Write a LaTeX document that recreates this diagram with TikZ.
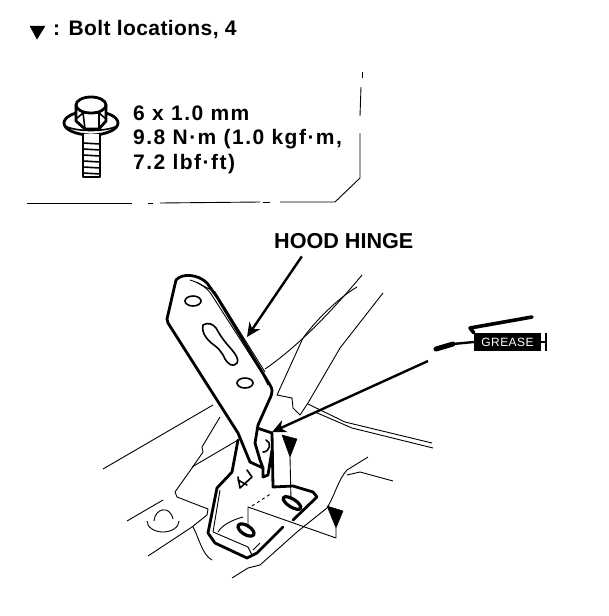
\documentclass[tikz,border=0pt]{standalone}
\usepackage{fontspec}
\setmainfont{Liberation Sans}
\usetikzlibrary{arrows.meta}
\begin{document}
\begin{tikzpicture}[x=1pt, y=-1pt]
        % ================= 样式定义 =================
        \tikzset{
            % 粗轮廓
            heavy/.style={line width=2.8pt, black, line join=round, line cap=round},
            % 中等线
            mid/.style={line width=1.6pt, black, line join=round, line cap=round},
            % 细线
            fine/.style={line width=0.9pt, black, line join=round},
            % 引线箭头
            pointer/.style={line width=2.4pt, black, -{Stealth[length=14pt, width=13pt]}},
            % 黑三角标记
            marker/.style={fill=black, draw=black, line width=0.5pt},
            % 文字
            label/.style={inner sep=0pt, font=\fontsize{21}{24.5}\selectfont\bfseries, align=left}
        }
        \useasboundingbox (0,0) rectangle (608,616);

        % ================= 第一部分:说明文字 =================
        \fill[marker] (30,26) -- (45,26) -- (37,39) -- cycle;
        \node[label, anchor=base west] (boltnote) at (53,35) {\addfontfeatures{LetterSpace=2}: Bolt locations, 4};

        % 框线 (断续)
        \draw[fine] (362,72) -- (362,78);
        \draw[fine] (361,87) -- (360,116);
        \draw[fine] (360,133) -- (360,178) -- (335,202) -- (280,202);
        \draw[fine] (263,202) -- (270,202);
        \draw[fine] (160,203) -- (260,202);
        \draw[fine] (148,203) -- (153,203);
        \draw[fine] (27,203) -- (132,203);

        % ================= 第二部分:螺栓 =================
        \begin{scope}[shift={(91,123)}]
            % 垫圈
            \draw[heavy, fill=white] (0,0) ellipse (27 and 12);
            \draw[mid] (-26,3) .. controls (-15,9) and (15,9) .. (26,3);
            % 螺杆
            \draw[heavy, fill=white] (-8,11) -- (-8,54) -- (9,54) -- (9,11);
            \foreach \ythread in {20,26,...,50} {
                \draw[mid] (-8,\ythread) -- (9,\ythread+1);
            }
            % 六角头
            \draw[heavy, fill=white] (-15,-18) -- (-15,-2) -- (-6,6) -- (8,6) -- (15,-2) -- (15,-18);
            \draw[heavy, fill=white] (0,-18) ellipse (15 and 8);
            \draw[mid] (-15,-4) -- (-8,-10) -- (8,-10) -- (15,-4);
            \draw[mid] (-6,6) -- (-8,-10);
            \draw[mid] (8,6) -- (8,-10);
        \end{scope}
        \node[label, anchor=base west] (boltspec) at (133,169) {\addfontfeatures{LetterSpace=7}6 x 1.0 mm\\\addfontfeatures{LetterSpace=7}9.8 N·m (1.0 kgf·m,\\\addfontfeatures{LetterSpace=7}7.2 lbf·ft)};

        % ================= 第三部分:背景细线 =================
        \draw[fine] (265,369) .. controls (290,352) and (323,322) .. (362,275);
        \draw[fine] (277,395) -- (303,338) .. controls (320,315) and (343,295) .. (357,287);
        \draw[fine] (308,403) -- (340,348) -- (383,293);
        \draw[fine] (277,395) -- (292,398) -- (293,408) -- (300,415) -- (308,403);
        \draw[fine] (308,404) -- (345,422) -- (432,443);
        \draw[fine] (315,412) -- (352,428) -- (433,448);
        \draw[fine] (213,405) -- (103,469);
        \draw[fine] (220,417) -- (202,447) -- (203,452) -- (192,468) -- (175,492) -- (177,497)
            -- (208,509) -- (207,515) -- (192,527) -- (148,556);
        \draw[fine] (238,440) -- (192,467);
        \draw[fine] (163,500) -- (127,521);
        \draw[fine] (147,521) arc[start angle=180, end angle=360, x radius=16, y radius=-11];
        \draw[fine] (154,521) .. controls (155,508) and (170,505) .. (173,519);
        \draw[fine] (193,527) .. controls (198,535) and (202,555) .. (212,560);
        \draw[fine] (232,578) -- (248,568) -- (260,565) -- (297,532) -- (327,508)
            .. controls (335,495) and (338,480) .. (347,470) -- (368,457);
        \draw[fine] (347,475) -- (360,472) -- (393,481);

        % ================= 第四部分:铰链 =================
        % 上半板
        \draw[heavy, fill=white] (176,280) .. controls (182,273) and (198,274) .. (207,283) -- (217,297)
            -- (270,385) .. controls (273,390) and (272,392) .. (271,396) -- (258,425) -- (255,443)
            -- (260,460) -- (263,468) -- (250,462) -- (238,433) -- (168,323) -- (167,319) -- cycle;
        \draw[fine] (190,280) .. controls (200,283) and (208,288) .. (213,297) -- (263,375) -- (268,385);
        \draw[fine] (196,282) -- (215,292) -- (265,372);
        \draw[mid] (193,301) ellipse (8 and 5);
        \draw[mid] (245,383) ellipse (8 and 5);
        \draw[mid] (203,325) .. controls (208,322) and (213,324) .. (216,328)
            .. controls (220,335) and (222,338) .. (226,343) .. controls (232,350) and (240,358) .. (237,363)
            .. controls (233,368) and (228,364) .. (225,359) .. controls (222,352) and (218,348) .. (214,345)
            .. controls (208,341) and (201,333) .. (203,325) -- cycle;

        % 下半支座
        \draw[heavy] (238,440) -- (232,472) -- (217,488) -- (208,533) -- (215,543) -- (247,558) -- (257,553) -- (283,527);
        \draw[heavy] (293,520) -- (317,497) -- (313,492) -- (293,486) -- (273,487) -- (272,433) -- (257,428);
        \draw[heavy] (263,468) -- (263,477) -- (268,475) -- (272,450);
        \draw[fine] (220,490) -- (213,532) -- (248,547) -- (252,555);
        \draw[fine] (218,532) .. controls (222,525) and (232,520) .. (243,517);
        \draw[fine] (253,550) -- (260,543);
        \draw[mid] (266,440) .. controls (272,442) and (270,452) .. (263,452);
        \draw[mid] (238,477) -- (240,488) -- (252,477) -- (247,470);
        \draw[mid] (238,480) -- (247,485);

        % 长孔
        \draw[line width=3.2pt, rotate around={-32:(246,530)}] (246,530) ellipse (9 and 4.5);
        \draw[line width=3.2pt, rotate around={-32:(292,503)}] (292,503) ellipse (10 and 4);

        % ================= 第五部分:黄油枪 =================
        \node[fill=black, text=white, inner sep=0pt, minimum width=67pt, minimum height=18pt,
            font=\fontsize{12}{12}\selectfont\addfontfeatures{LetterSpace=4}] (greasebody) at (507.5,342) {GREASE};
        \coordinate (nozzle) at (436,349);
        \coordinate (handle) at (532,317);
        \coordinate (plunger) at (546,342);
        \draw[line width=5pt, line cap=round] (nozzle) -- (453,344);
        \draw[line width=2.4pt] (453,344) -- (greasebody.west);
        \draw[line width=3.6pt, line join=round, line cap=round] (handle) -- (470,328) -- (greasebody.north west);
        \draw[line width=2.4pt] (greasebody.east) -- (plunger);
        \draw[line width=2.4pt] (546,333) -- (546,351);

        % ================= 第六部分:引线与标记 =================
        \node[label, font=\fontsize{21.6}{24}\selectfont\bfseries, anchor=base west] (hingelabel) at (274,248) {HOOD HINGE};
        \draw[pointer] ([xshift=-42pt, yshift=-8pt]hingelabel.south) -- (247,337);

        \coordinate (greasefrom) at (428,361);
        \coordinate (greasetip) at (272,432);
        \draw[pointer] (greasefrom) -- (greasetip);

        % 三角与指示线
        \fill[marker] (282,435) -- (297,439) -- (290,457) -- cycle;
        \draw[fine] (290,457) -- (291,500);
        \fill[marker] (327,506) -- (343,511) -- (336,528) -- cycle;
        \draw[fine] (336,528) -- (336,538) -- (248,507) -- (248,528);
        \draw[fine, dashed] (252,506) -- (272,493);
\end{tikzpicture}
\end{document}
